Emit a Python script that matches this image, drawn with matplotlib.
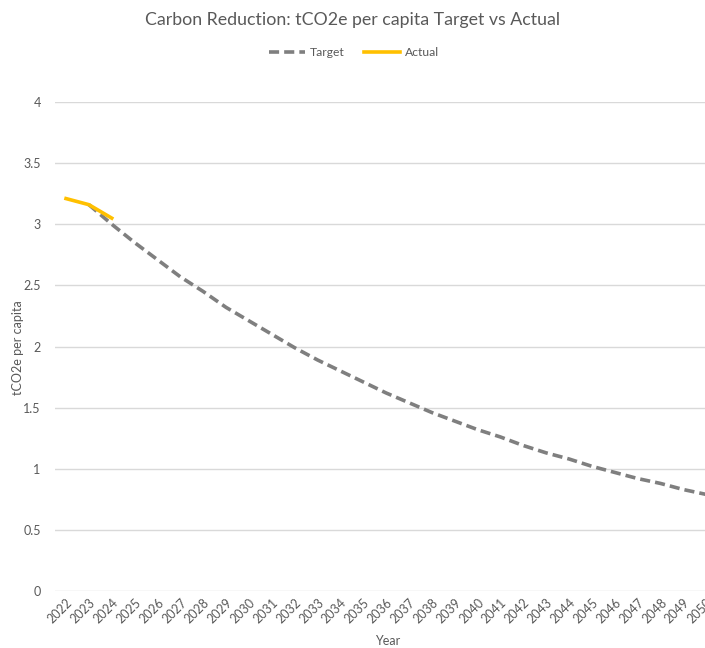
import matplotlib
matplotlib.use("Agg")
import matplotlib.pyplot as plt

years = list(range(2022, 2051))
target_years = list(range(2023, 2051))
target = [3.16, 3.00, 2.85, 2.71, 2.57, 2.45, 2.32, 2.21, 2.10, 1.99,
          1.89, 1.80, 1.71, 1.62, 1.54, 1.46, 1.39, 1.32, 1.26, 1.19,
          1.13, 1.08, 1.02, 0.97, 0.92, 0.88, 0.83, 0.79]
actual_years = [2022, 2023, 2024]
actual = [3.21, 3.16, 3.05]

plt.rcParams['font.family'] = ['Lato', 'DejaVu Sans']
W, H = 705, 648
fig = plt.figure(figsize=(W / 100, H / 100), dpi=100)
left_px, right_px = 54.6, 717.6
top_px, bot_px = 102, 591
ax = fig.add_axes([left_px / W, 1 - bot_px / H, (right_px - left_px) / W, (bot_px - top_px) / H])

idx = {y: i for i, y in enumerate(years)}
grey_text = '#595959'
ax.plot([idx[y] for y in target_years], target, color='#7f7f7f', lw=2.6,
        linestyle=(0, (2.8, 1.4)), label='Target', solid_capstyle='butt', clip_on=False)
ax.plot([idx[y] for y in actual_years], actual, color='#ffc000', lw=2.6, label='Actual')

ax.set_xlim(-0.5, len(years) - 0.5)
ax.set_ylim(0, 4)
ax.set_yticks([0, 0.5, 1, 1.5, 2, 2.5, 3, 3.5, 4])
ax.set_yticklabels(['0', '0.5', '1', '1.5', '2', '2.5', '3', '3.5', '4'])
ax.set_xticks(range(len(years)))
ax.set_xticklabels([str(y) for y in years], rotation=45, ha='right', rotation_mode='anchor')
ax.tick_params(axis='both', length=0, colors=grey_text, labelsize=9)
ax.tick_params(axis='y', pad=10)
ax.tick_params(axis='x', pad=4)
ax.grid(axis='y', color='#d9d9d9', lw=1)
ax.set_axisbelow(True)
for s in ax.spines.values():
    s.set_visible(False)

fig.text(353 / W, 1 - 20 / H, 'Carbon Reduction: tCO2e per capita Target vs Actual',
         ha='center', va='center', fontsize=12.8, color=grey_text)
fig.text(388 / W, 1 - 641 / H, 'Year', ha='center', va='center', fontsize=9, color=grey_text)
fig.text(18 / W, 1 - 348 / H, 'tCO2e per capita', ha='center', va='center', rotation=90,
         fontsize=9, color=grey_text)

leg = fig.legend(loc='center', bbox_to_anchor=(354 / W, 1 - 53 / H), ncol=2, frameon=False,
                 fontsize=8.7, handlelength=3.0, columnspacing=1.6, handletextpad=0.4)
for t in leg.get_texts():
    t.set_color(grey_text)

fig.savefig('out.png', dpi=100)
